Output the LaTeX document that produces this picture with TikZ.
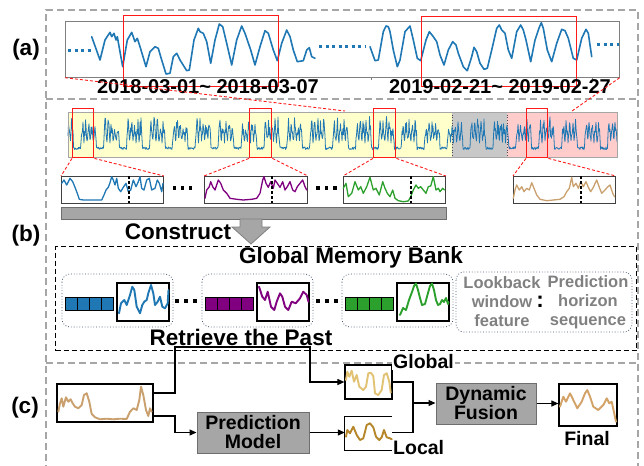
\documentclass[tikz,border=0pt]{standalone}
\usepackage{fontspec}
\setmainfont{Liberation Sans}
\usetikzlibrary{arrows.meta,calc}

\definecolor{blueS}{HTML}{1F77B4}
\definecolor{purpS}{HTML}{800080}
\definecolor{greenS}{HTML}{2CA02C}
\definecolor{tanS}{HTML}{C9A06E}
\definecolor{goldL}{HTML}{E2C273}
\definecolor{goldD}{HTML}{B5862A}
\definecolor{tanF}{HTML}{D2A266}
\definecolor{redF}{HTML}{FF1A1A}
\definecolor{frameG}{HTML}{A6A6A6}
\definecolor{boxG}{HTML}{A6A6A6}
\definecolor{boxEdge}{HTML}{6E6E6E}
\definecolor{winEdge}{HTML}{404040}
\definecolor{legG}{HTML}{808080}
\definecolor{dotNavy}{HTML}{44546A}
\definecolor{bgY}{HTML}{FFFFCC}
\definecolor{bgG}{HTML}{C8C8C8}
\definecolor{bgP}{HTML}{FFCCCC}

\begin{document}
\begin{tikzpicture}[x=1pt,y=-1pt,
  fsL/.style={font=\bfseries\fontsize{22.5}{25}\selectfont},
  fsD/.style={font=\bfseries\fontsize{20}{22}\selectfont},
  fsM/.style={font=\bfseries\fontsize{19.5}{21}\selectfont},
  fsS/.style={font=\bfseries\fontsize{16.5}{19}\selectfont, text=legG},
  framedash/.style={draw=frameG, line width=1.3pt, dash pattern=on 7pt off 4pt},
  conn/.style={line width=1.1pt},
  arr/.style={-{Triangle[length=7pt,width=6pt]}},
  redbox/.style={draw=redF, line width=1.4pt, inner sep=0pt},
  reddash/.style={draw=redF, line width=0.9pt, dash pattern=on 3pt off 2pt},
  winbox/.style={draw=winEdge, line width=0.9pt, inner sep=0pt},
  plotbox/.style={draw=black, line width=1.2pt, inner sep=0pt, fill=white},
  procbox/.style={draw=boxEdge, fill=boxG, line width=1pt, inner sep=0pt, align=center, fsM},
  memdot/.style={draw=dotNavy, line width=0.8pt, dotted, rounded corners=8pt},
  curveA/.style={blueS, line width=1.6pt, line join=round, line cap=round},
  curveW/.style={line width=1.3pt, line join=round, line cap=round},
  curveM/.style={line width=1.9pt, line join=round, line cap=round},
  sqdot/.style={fill=black, minimum size=3.6pt, inner sep=0pt},
]
\useasboundingbox (0,0) rectangle (644,465);

% ---------- panel frames ----------
\draw[framedash] (46,472) -- (46,10) -- (638,10) -- (638,472);
\draw[framedash] (46,99) -- (638,99);
\draw[framedash] (46,363) -- (638,363);

\node[fsL, inner sep=0pt] (la) at (26,50) {(a)};
\node[fsL, inner sep=0pt] (lb) at (26,236) {(b)};
\node[fsL, inner sep=0pt] (lc) at (25,408) {(c)};

% ---------- (a) two weeks of load ----------
\node[draw=gray, line width=0.7pt, inner sep=0pt, minimum width=554pt, minimum height=56pt, anchor=north west] (fa) at (65,21) {};
\draw[gray, line width=0.7pt] (371,77) -- (371,80) (592,77) -- (592,80);

\draw[blueS, line width=3pt, dash pattern=on 3pt off 3.5pt] (68,51) -- (91,51);
\draw[blueS, line width=3pt, dash pattern=on 3pt off 3.5pt] (319,47) -- (366,47);
\draw[blueS, line width=3pt, dash pattern=on 3pt off 3.5pt] (597,45) -- (619,45);

\draw[curveA] plot coordinates {(91.7,36.7) (100,60) (105,40) (110,32.3) (111.7,36.7) (114,33.3) (116,40) (117.3,36.7) (122.7,66.7) (127.3,40) (131.7,32.3) (135,41.7) (137.3,38.3) (140,46.7) (146,66.7) (150,51.7) (155,46.7) (158.3,48.3) (160.7,56.7) (166,74) (170,73.3) (173.3,56.7) (176.7,53.3) (180,60) (186.7,70.7) (189.3,70) (194,40) (198.3,28.3) (200,31.7) (203.3,33.3) (206.7,41.7) (210.7,63.3) (215,40) (219.3,24) (222.7,26.7) (226.7,43.3) (231.7,65) (236.7,40) (241.7,26) (245,33.3) (250.7,50) (255,65) (260,46.7) (265,30.7) (268.3,33.3) (273.3,50) (277.3,60.7) (281.7,43.3) (286.7,30) (290,36.7) (293.3,50) (297.3,61.7) (303.3,60.7) (306.7,50) (309.3,47.7) (311.7,56.7) (315,58.3)};

\draw[curveA] plot coordinates {(370,46.7) (375,60.7) (378.3,60) (383.3,31.7) (386,26) (388.3,26.7) (390,31.7) (393.3,50) (397.3,66.7) (400,60) (405,31.7) (410,26) (413.3,40) (417.3,58.3) (420.7,60.7) (426,40) (429.3,31.7) (433.3,36.7) (436.7,41.7) (440,55) (444,65) (448.3,50) (452.7,41.7) (456,45) (458.3,53.3) (463.3,66.7) (467.3,70.7) (471.7,56.7) (474,47.3) (476.7,51.7) (480,63.3) (484,69.3) (487.3,68.3) (491.7,50) (496.7,28.3) (499.3,25) (501.7,30) (505,33.3) (508.3,50) (511.7,58.3) (516.7,31.7) (520.7,25) (523.3,30) (526,40) (530.7,61.7) (535,40) (539.3,27.3) (541.3,22.7) (543.3,28.3) (547.3,50) (551.7,61.7) (556.7,43.3) (561.7,29.3) (565,30.7) (568.3,38.3) (573.3,58.3) (576.7,60) (581.7,38.3) (586,29.3) (588.3,33.3) (591.7,56.7)};

\node[redbox, minimum width=155pt, minimum height=71pt, anchor=north west] (ra1) at (123,15) {};
\node[redbox, minimum width=155pt, minimum height=70pt, anchor=north west] (ra2) at (421,16) {};

\node[fsD, inner sep=0pt] (d1) at (208,87) {2018-03-01\textasciitilde{} 2018-03-07};
\node[fsD, inner sep=0pt] (d2) at (500,87) {2019-02-21\textasciitilde{} 2019-02-27};

% ---------- (b) whole series ----------
\fill[bgY] (68,112) rectangle (452,157);
\fill[bgG] (452,112) rectangle (507,157);
\fill[bgP] (507,112) rectangle (617,157);
\draw[black!70, line width=0.7pt, dotted] (452,112) -- (452,157) (507,112) -- (507,157);
\pgfmathsetseed{7}
\draw[blueS, line width=0.8pt, line join=round] plot[domain=0:549, samples=1099]
  ({68+\x}, {ifthenelse(mod(\x+10,22.9)<15.5, 143-(8+19*rnd)*sin(180*mod(mod(\x+10,22.9),3.1)/3.1), 147+2.5*rnd)});
\node[draw=gray!70, line width=0.6pt, inner sep=0pt, minimum width=549pt, minimum height=45pt, anchor=north west] (st) at (68,112) {};

\coordinate (t1) at (345,111);
\coordinate (t2) at (572,111);
\draw[reddash] (fa.south west) -- (t1);
\draw[reddash] (fa.south east) -- (t2);

\node[redbox, minimum width=21pt, minimum height=49pt, anchor=north west] (s1) at (72,108) {};
\node[redbox, minimum width=22pt, minimum height=49pt, anchor=north west] (s2) at (249,108) {};
\node[redbox, minimum width=22pt, minimum height=49pt, anchor=north west] (s3) at (373,108) {};
\node[redbox, minimum width=21pt, minimum height=49pt, anchor=north west] (s4) at (526,108) {};

% sampled windows
\node[winbox, minimum width=102pt, minimum height=27pt, anchor=north west] (w1) at (61,176) {};
\node[winbox, minimum width=103pt, minimum height=27pt, anchor=north west] (w2) at (204,176) {};
\node[winbox, minimum width=102pt, minimum height=27pt, anchor=north west] (w3) at (343,176) {};
\node[winbox, minimum width=102pt, minimum height=27pt, anchor=north west] (w4) at (513,176) {};

\foreach \s/\w in {s1/w1,s2/w2,s3/w3,s4/w4}{
  \draw[reddash] (\s.south west) -- (\w.north west);
  \draw[reddash] (\s.south east) -- (\w.north east);
}

\draw[curveW, blueS] plot coordinates {(61.7,183.3) (64,180) (66.7,185) (70,178.3) (72.7,181.7) (75,187.3) (77.3,193.3) (79.3,199.3) (83.3,200) (93.3,200) (101.7,200) (104,195) (106,190) (108.3,187.3) (110,182.7) (111.7,176.7) (113.3,180) (115,185) (116.7,178.3) (118.3,188.3) (120.7,191.7) (123.3,187.3) (126,183.3) (128.3,191.7) (130.7,190) (133.3,180) (136,186.7) (138.3,181.7) (140,176.7) (141.7,188.3) (144,190) (146.7,180) (149.3,178.3) (151.7,190) (155,188.3) (157.3,180) (159.3,183.3) (161.7,191.7) (163,183.3)};
\draw[curveW, purpS] plot coordinates {(205,198.3) (206.7,190) (209.3,186.7) (210.7,181.7) (212.7,186.7) (215,190) (218.3,180) (220.7,183.3) (223.3,190) (226.7,193.3) (230,198.3) (236.7,199.3) (243.3,200) (251.7,199.3) (256.7,198.3) (260,193.3) (262.7,180) (264,176.7) (266,183.3) (268.3,187.3) (270.7,181.7) (273.3,188.3) (275,180) (277.3,183.3) (280,187.3) (282.7,181.7) (285,190) (287.3,186.7) (290,181.7) (292.7,190) (295,191.7) (297.3,186.7) (300,183.3) (302.7,180) (305,186.7) (306.7,190)};
\draw[curveW, greenS] plot coordinates {(343.3,188.3) (346,183.3) (348.3,196.7) (351.7,193.3) (355,181.7) (358.3,190) (360.7,186.7) (363.3,193.3) (366.7,186.7) (370,177.3) (373.3,190) (376,188.3) (379.3,195) (382.7,181.7) (385,188.3) (387.3,193.3) (390,196.7) (392.7,190) (395,198.3) (398.3,200.7) (403.3,201.7) (408.3,201) (410.7,196.7) (413.3,190) (416,185) (418.3,188.3) (420.7,186.7) (423.3,190) (426,193.3) (428.3,186.7) (430.7,186) (433.3,176.7) (436,190) (438.3,188.3) (440,191.7) (442.7,188.3) (444.5,190)};
\draw[curveW, tanS] plot coordinates {(513.3,198.3) (515,190) (516.7,185) (519.3,190) (521.7,186.7) (524,191.7) (526.7,188.3) (529.3,190) (531.7,182.7) (534,188.3) (536.7,195) (540,199.3) (546.7,200.7) (553.3,200) (560,199.3) (564,196.7) (566.7,191.7) (569.3,188.3) (571.7,177.3) (573.3,186.7) (576,183.3) (578.3,188.3) (580.7,181.7) (583.3,186.7) (586,181.7) (588.3,187.3) (590.7,191.7) (593.3,187.3) (596.7,180) (599.3,187.3) (601.7,193.3) (605,190) (607.3,187.3) (610,185) (612.7,193.3) (614.5,196.7)};

\foreach \x in {129,272,411,581}
  \draw[black, line width=1.1pt, dash pattern=on 3pt off 2pt] (\x,176) -- (\x,203);

\foreach \x in {174.5,182.5,190.5,318,326.5,335}
  \node[sqdot] at (\x,188) {};

% construct step
\node[draw=boxEdge, fill=boxG, line width=0.8pt, inner sep=0pt, minimum width=385pt, minimum height=12pt, anchor=north west] (cb) at (61,207) {};
\draw[draw=legG, fill=boxG, line width=0.8pt] (240,219) -- (262,219) -- (262,227) -- (270,227) -- (251,244) -- (232,227) -- (240,227) -- cycle;
\node[fsL, inner sep=0pt] (cons) at (178,232) {Construct};

% ---------- memory bank ----------
\node[draw=black, line width=1.3pt, dash pattern=on 5pt off 3pt, inner sep=0pt, minimum width=581pt, minimum height=104pt, anchor=north west] (mb) at (55,246) {};
\node[fsL, inner sep=0pt] (mbt) at (351,258) {Global Memory Bank};

\foreach \i/\c in {0/blueS,1/purpS,2/greenS}{
  \draw[memdot] ({62+140*\i},274) rectangle ({173+140*\i},327);
  \foreach \k in {0,...,3}
    \draw[fill=\c, draw=black, line width=0.9pt] ({65+140*\i+12*\k},297) rectangle ({77+140*\i+12*\k},310);
  \draw[black, line width=1.2pt, fill=white] ({117+140*\i},283) rectangle ({169+140*\i},321);
}

\draw[curveM, blueS] plot coordinates {(119,313.3) (121,303.3) (124.3,300) (126.7,305) (130,295) (132.3,286.7) (134.3,290) (136.7,306.7) (140,313.3) (142.3,305) (144.3,301.7) (146.7,300) (148.3,293.3) (151,285) (153.3,293.3) (155,305) (157.7,301.7) (160,296.7) (162.3,306.7) (165,308.3) (167.7,303.3) (168.5,290)};
\draw[curveM, purpS] plot coordinates {(259,286.7) (262.3,296.7) (265,300) (267.7,291.7) (271,306.7) (274.3,310) (276.7,301.7) (280,293.3) (282.3,296.7) (285,306.7) (288.3,310) (291.7,301.7) (295.7,303.3) (300,298.3) (303.3,291.7) (306.7,295) (308.5,301.7)};
\draw[curveM, greenS] plot coordinates {(400,315) (403,308) (406,310) (409,300) (412,292) (414,286) (416,283.5) (418,290) (420,298) (422,305) (425,304) (428,293) (430,286) (432,283.5) (434,290) (436,300) (438,305) (440,304) (442,300) (444,302) (446,298) (448,304) (448.5,302)};

\foreach \x in {177,186,195,318,327,336}
  \node[sqdot] at (\x,301) {};

\draw[memdot] (456,272) rectangle (632,332);
\node[fsS, inner sep=0pt, align=center] (lw) at (502,302) {Lookback\\window\\feature};
\node[fsS, inner sep=0pt, align=center] (ph) at (588,302) {Prediction\\horizon\\sequence};
\node[fsL, inner sep=0pt] (colon) at (540,302) {:};

\node[fsL, inner sep=0pt] (rtp) at (241,337) {Retrieve the Past};

% ---------- (c) forecasting flow ----------
\node[plotbox, minimum width=96pt, minimum height=38pt] (inbox) at (105,403) {};
\node[plotbox, minimum width=47pt, minimum height=34pt] (glob) at (368.5,382) {};
\node[inner sep=0pt, minimum width=47pt, minimum height=33pt] (loc) at (368.5,433.5) {};
\draw[black, line width=1.2pt] (loc.north east) -- (loc.north west) -- (loc.south west) -- (loc.south east);
\node[procbox, minimum width=112pt, minimum height=41pt] (pm) at (253,432.5) {Prediction\\[-2pt]Model};
\node[procbox, minimum width=100pt, minimum height=41pt] (df) at (486,403.5) {Dynamic\\[-2pt]Fusion};
\node[plotbox, minimum width=58pt, minimum height=42pt] (fin) at (588,405) {};

\draw[curveM, tanS] plot coordinates {(58.3,411.7) (60,403.3) (61.7,398.3) (63.3,406.7) (66,397.3) (68.3,401.7) (70.7,399.3) (72.7,403.3) (75,406.7) (78.3,408.3) (81.7,405) (84,395) (86.7,393.3) (89.3,401.7) (91.7,414) (95,417.3) (100,419.3) (106.7,418.7) (113.3,419.3) (120,418.7) (126.7,419) (130,411.7) (133.3,408.3) (136.7,410) (139.3,400) (141,386.7) (143.3,395) (146,410) (148.3,416) (150,408.3) (151.7,411.7)};
\draw[curveM, goldL] plot coordinates {(346,380) (347.3,371.7) (349.3,376.7) (351.7,370.7) (354,381.7) (356.7,375) (359.3,386.7) (363.3,390) (366,386.7) (368.3,373.3) (370.7,372.7) (373.3,376) (375,393.3) (378.3,395) (381.7,390) (384,375) (386.7,373.3) (389.3,381.7) (390.7,392.7)};
\draw[curveM, goldD] plot coordinates {(346,436.7) (347.3,430) (350,433.3) (353.3,426.7) (356.7,435) (360,440) (363.3,438.3) (366.7,425) (370,423.3) (373.3,427.3) (376,436.7) (379.3,440) (381.7,437.3) (384,430) (386.7,437.3) (390,438.3) (391.7,439.3)};
\draw[curveM, tanF] plot coordinates {(560,406.7) (563.3,396.7) (566,401.7) (570,393.3) (573.3,400) (577.3,408.3) (581.7,401.7) (585,393.3) (587.3,390) (590,396.7) (593.3,406.7) (598.3,410) (603.3,405) (606.7,398.3) (609.3,403.3) (611.7,401.7) (616,421.7)};

\node[fsM, fill=white, inner sep=1pt, anchor=west] (glab) at (392,362) {Global};
\node[fsM, inner sep=0pt, anchor=west] (llab) at (393,448) {Local};
\node[fsM, inner sep=0pt] (flab) at (587,439) {Final};

\coordinate (r1) at (175,347);
\coordinate (r2) at (310,347);
\coordinate (r3) at (175,425);
\coordinate (mj) at (413,403);

\draw[conn, arr] ([yshift=10pt]inbox.east) -| (r1) -- (r2) |- (glob.west);
\draw[conn, arr] ([yshift=-13pt]inbox.east) -| (r3) |- (pm.west);
\draw[conn, arr] (pm.east) -- (pm.east -| loc.west);
\draw[conn] (glob.east) -| (mj);
\draw[conn] (pm.east -| loc.east) -| (mj);
\draw[conn, arr] (mj) -- (mj -| df.west);
\draw[conn, arr] (df.east) -- (df.east -| fin.west);
\end{tikzpicture}
\end{document}
